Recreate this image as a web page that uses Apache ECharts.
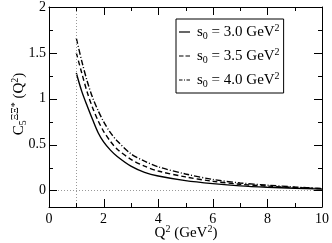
<!DOCTYPE html>
<html><head><meta charset="utf-8">
<script src="https://cdn.jsdelivr.net/npm/echarts@6/dist/echarts.min.js"></script>
<style>html,body{margin:0;padding:0;background:#fff}#c{width:332px;height:243px}</style>
</head><body><div id="c"></div>
<script>
const q2 = [1, 1.2, 1.4, 1.6, 1.8, 2, 2.25, 2.5, 3, 3.5, 4, 5, 6, 7, 8, 9, 10];
const s30 = [1.28, 1.08, 0.92, 0.77, 0.63, 0.53, 0.44, 0.37, 0.265, 0.198, 0.158, 0.108, 0.075, 0.05, 0.035, 0.025, 0.015];
const s35 = [1.50, 1.28, 1.07, 0.90, 0.76, 0.645, 0.535, 0.45, 0.34, 0.265, 0.212, 0.148, 0.10, 0.068, 0.048, 0.032, 0.02];
const s40 = [1.66, 1.41, 1.19, 1.01, 0.87, 0.75, 0.63, 0.54, 0.40, 0.32, 0.258, 0.18, 0.12, 0.082, 0.058, 0.038, 0.022];
const seriesNames = ['3.0', '3.5', '4.0'];
const xMajorTicks = [2, 4, 6, 8];
const xMinorTicks = [1, 3, 5, 7, 9];
const yMajorTicks = [0, 0.5, 1, 1.5];
const yMinorTicks = [0.25, 0.75, 1.25, 1.75];

const FONT = 'Liberation Serif';
const X_MIN = 0, X_MAX = 10, Y_MIN = -0.18, Y_MAX = 2;
const pairs = v => q2.map((x, i) => [x, v[i]]);
const dashes = ['solid', [5, 3], [6, 2, 1, 2]];
const icons = [
  'path://M0,5.4 L11,5.4 L11,6.6 L0,6.6 Z',
  'path://M0,5.4 L4.5,5.4 L4.5,6.6 L0,6.6 Z M6.5,5.4 L11,5.4 L11,6.6 L6.5,6.6 Z',
  'path://M0,5.4 L3.5,5.4 L3.5,6.6 L0,6.6 Z M5,5.4 L6,5.4 L6,6.6 L5,6.6 Z M7.5,5.4 L11,5.4 L11,6.6 L7.5,6.6 Z'
];
const vals = [s30, s35, s40];

function xAx(pos, labels) {
  return {type: 'value', min: X_MIN, max: X_MAX, interval: 2, position: pos,
    splitLine: {show: false},
    axisLine: {show: true, onZero: false, lineStyle: {color: '#000', width: 1}},
    axisTick: {show: false}, minorTick: {show: false},
    axisLabel: labels ? {show: true, fontFamily: FONT, fontSize: 14, color: '#000', margin: 5} : {show: false}};
}
function yAx(pos, labels) {
  return {type: 'value', min: Y_MIN, max: Y_MAX, minInterval: 0.5, maxInterval: 0.5, position: pos,
    splitLine: {show: false},
    axisLine: {show: true, onZero: false, lineStyle: {color: '#000', width: 1}},
    axisTick: {show: false}, minorTick: {show: false},
    axisLabel: labels ? {show: true, showMinLabel: false, fontFamily: FONT, fontSize: 14, color: '#000', margin: 3} : {show: false}};
}

function tickLine(x1, y1, x2, y2) {
  return {type: 'line', shape: {x1: x1, y1: y1, x2: x2, y2: y2}, style: {stroke: '#000', lineWidth: 1}};
}
function xTickSeries(values, len) {
  return {type: 'custom', silent: true, clip: false, z: 5,
    data: values.map(v => [v, Y_MIN]),
    renderItem: function (params, api) {
      const v = api.value(0);
      const b = api.coord([v, Y_MIN]);
      const t = api.coord([v, Y_MAX]);
      const x = Math.round(b[0]) + 0.5;
      return {type: 'group', children: [tickLine(x, b[1], x, b[1] - len), tickLine(x, t[1], x, t[1] + len)]};
    }};
}
function yTickSeries(values, len) {
  return {type: 'custom', silent: true, clip: false, z: 5,
    data: values.map(v => [X_MIN, v]),
    renderItem: function (params, api) {
      const v = api.value(1);
      const l = api.coord([X_MIN, v]);
      const r = api.coord([X_MAX, v]);
      const y = Math.round(l[1]) + 0.5;
      return {type: 'group', children: [tickLine(l[0], y, l[0] + len, y), tickLine(r[0], y, r[0] - len, y)]};
    }};
}

const series = vals.map((v, i) => ({
  name: 's0 = ' + seriesNames[i] + ' GeV2',
  type: 'line', data: pairs(v), symbol: 'none', smooth: 0.3,
  lineStyle: {color: '#000', width: 1.4, type: dashes[i]},
  itemStyle: {color: '#000'}
}));
series[0].markLine = {
  silent: true, symbol: 'none', label: {show: false},
  lineStyle: {color: '#999', type: [1, 2], width: 1},
  data: [{xAxis: 1}, {yAxis: 0}]
};
series.push(xTickSeries(xMajorTicks, 8), xTickSeries(xMinorTicks, 4),
            yTickSeries(yMajorTicks, 8), yTickSeries(yMinorTicks, 4));

const richT = {
  n: {fontFamily: FONT, fontSize: 15, fill: '#000', color: '#000'},
  sub: {fontFamily: FONT, fontSize: 10, fill: '#000', color: '#000', padding: [8, 0, 0, 0]},
  sup: {fontFamily: FONT, fontSize: 10, fill: '#000', color: '#000', padding: [0, 0, 8, 0]}
};

const chart = echarts.init(document.getElementById('c'));
chart.setOption({
  animation: false,
  grid: {left: 49, right: 9, top: 5, bottom: 36},
  xAxis: [xAx('bottom', true), xAx('top', false)],
  yAxis: [yAx('left', true), yAx('right', false)],
  graphic: [
    {type: 'text', x: 186, y: 233, silent: true,
      style: {text: '{n|Q}{sup|2}{n| (GeV}{sup|2}{n|)}', rich: richT, align: 'center', verticalAlign: 'middle'}},
    {type: 'text', x: 19, y: 104, rotation: Math.PI / 2, silent: true,
      style: {text: '{n|C}{sub|5}{sup|ΞΞ*}{n| (Q}{sup|2}{n|)}', rich: richT, align: 'center', verticalAlign: 'middle'}}
  ],
  legend: {
    orient: 'vertical', left: 176, top: 19, itemWidth: 11, itemHeight: 12, itemGap: 6,
    padding: [4, 4, 4, 3],
    borderColor: '#000', borderWidth: 1, backgroundColor: '#fff',
    data: vals.map((v, i) => ({name: series[i].name, icon: icons[i], itemStyle: {color: '#000', borderWidth: 0}})),
    formatter: function (name) {
      const m = name.match(/s0 = ([\d.]+) GeV2/);
      return '{n|s}{sub|0}{n| = ' + m[1] + ' GeV}{sup|2}';
    },
    textStyle: {padding: [0, 0, 0, 2], rich: richT}
  },
  series: series
});
</script></body></html>
